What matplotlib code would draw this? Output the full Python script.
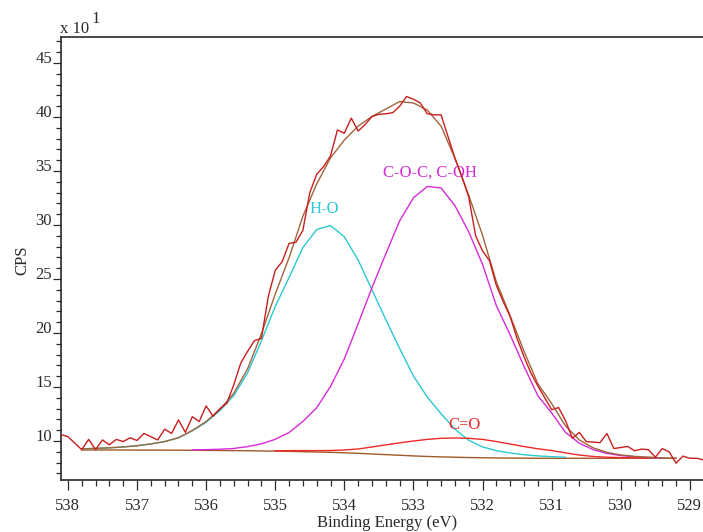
import numpy as np
import matplotlib as mpl
mpl.use('Agg')
mpl.rcParams.update({'font.size': 12, 'font.family': ['Liberation Serif', 'DejaVu Serif']})
from matplotlib import pyplot as plt
from matplotlib.ticker import MultipleLocator

# O 1s region, counts in units of 10 CPS, binding energy descending
RAW_START = 538.1
RAW_STEP = 0.1
raw_counts = [
    10.6, 10.4, 9.8, 9.2, 10.15, 9.2, 10.1, 9.65, 10.15, 9.95,
    10.3, 10.05, 10.7, 10.4, 10.1, 11.1, 10.7, 11.95, 10.8, 12.25,
    11.8, 13.25, 12.3, 13.0, 13.5, 15.2, 17.2, 18.3, 19.3, 19.5,
    23.4, 25.8, 26.6, 28.3, 28.4, 29.5, 33.0, 34.7, 35.4, 36.4,
    38.8, 38.5, 39.9, 38.7, 39.3, 40.05, 40.25, 40.3, 40.4, 41.0,
    41.9, 41.65, 41.3, 40.3, 40.2, 40.2, 38.2, 36.2, 34.5, 32.6,
    29.0, 27.6, 26.7, 24.4, 22.9, 21.5, 19.5, 17.8, 16.3, 15.1,
    14.0, 12.9, 13.1, 11.9, 10.25, 10.8, 9.95, 9.9, 9.85, 10.7,
    9.3, 9.4, 9.5, 9.1, 9.25, 9.2, 8.5, 9.3, 9.0, 7.95,
    8.6, 8.4, 8.4, 8.25,
]

# fitted region: Shirley background and peak heights above it
FIT_START = 537.8
FIT_STEP = 0.2
background = [
    9.17, 9.17, 9.17, 9.17, 9.16, 9.16, 9.15, 9.15, 9.14, 9.13,
    9.12, 9.11, 9.10, 9.08, 9.06, 9.04, 9.01, 8.98, 8.95, 8.91,
    8.86, 8.80, 8.74, 8.68, 8.62, 8.57, 8.53, 8.50, 8.47, 8.45,
    8.43, 8.42, 8.41, 8.40, 8.40, 8.40, 8.40, 8.40, 8.40, 8.40,
    8.40, 8.40, 8.40, 8.40,
]
peak_ho = [
    0.1, 0.15, 0.2, 0.28, 0.4, 0.57, 0.8, 1.15, 1.8, 2.6,
    3.7, 5.1, 7.2, 10.2, 13.4, 16.1, 18.9, 20.6, 21.0, 20.0,
    17.9, 15.2, 12.5, 9.9, 7.4, 5.5, 4.0, 2.6, 1.6, 1.0,
    0.68, 0.47, 0.32, 0.22, 0.15, 0.1, 0, 0, 0, 0,
    0, 0, 0, 0,
]
peak_coc = [
    0, 0, 0, 0, 0, 0, 0, 0, 0.04, 0.07,
    0.12, 0.2, 0.38, 0.65, 1.1, 1.75, 2.8, 4.1, 6.1, 8.7,
    12.0, 15.4, 18.6, 21.7, 23.9, 25.0, 24.9, 23.3, 20.9, 17.9,
    14.1, 11.4, 8.5, 5.8, 4.2, 2.4, 1.4, 0.8, 0.45, 0.25,
    0.14, 0.08, 0.04, 0,
]
peak_co = [
    0, 0, 0, 0, 0, 0, 0, 0, 0, 0,
    0, 0, 0, 0, 0.04, 0.07, 0.1, 0.13, 0.17, 0.26,
    0.4, 0.65, 0.9, 1.15, 1.38, 1.58, 1.72, 1.78, 1.78, 1.7,
    1.52, 1.3, 1.08, 0.88, 0.72, 0.5, 0.3, 0.17, 0.1, 0.06,
    0.04, 0.02, 0, 0,
]
peak_names = ['H-O', 'C-O-C, C-OH', 'C=O']

W, H = 703, 532


def plot_o1s():
    fig = plt.figure(figsize=(W / 100, H / 100), dpi=100)
    ax = fig.add_axes([61 / W, 1 - 480 / H, 642 / W, 443 / H])

    raw_e = RAW_START - RAW_STEP * np.arange(len(raw_counts))
    fit_e = FIT_START - FIT_STEP * np.arange(len(background))
    bg = np.array(background)

    ax.plot(fit_e, bg, color='#a05a28', lw=1.0, zorder=2)

    peaks = [peak_ho, peak_coc, peak_co]
    colors = ['#2ac8d2', '#d82ad8', '#f02828']
    label_pos = [(534.50, 31.1), (533.44, 34.45), (532.50, 11.1)]
    for h, c, name, pos in zip(peaks, colors, peak_names, label_pos):
        h = np.array(h)
        ax.plot(fit_e, np.where(h > 0, bg + h, np.nan), color=c, lw=1.0, zorder=3)
        ax.text(pos[0], pos[1], name, color=c, ha='left', va='baseline')

    envelope = bg + np.array(peak_ho) + np.array(peak_coc) + np.array(peak_co)
    ax.plot(fit_e, envelope, color='#a0643c', lw=1.0, zorder=4)
    ax.plot(raw_e, raw_counts, color='#c81e1e', lw=1.0, zorder=5)

    ax.set_xlim(538.10, 528.81)
    ax.set_ylim(6.39, 47.41)
    ax.xaxis.set_major_locator(MultipleLocator(1))
    ax.xaxis.set_minor_locator(MultipleLocator(0.2))
    ax.yaxis.set_major_locator(MultipleLocator(5))
    ax.yaxis.set_minor_locator(MultipleLocator(1))

    ink = '#2a2a2a'
    ax.tick_params(axis='x', which='major', direction='out', length=7.2, width=0.9, pad=5.5, colors=ink)
    ax.tick_params(axis='x', which='minor', direction='out', length=4.3, width=0.9, colors=ink)
    ax.tick_params(axis='y', which='major', direction='out', length=5.8, width=0.9, pad=0.7, colors=ink)
    ax.tick_params(axis='y', which='minor', direction='out', length=3.6, width=0.9, colors=ink)
    ax.set_yticks(range(10, 50, 5))
    ax.set_yticklabels([str(v) for v in range(10, 50, 5)], va='baseline')

    for side in ['left', 'top', 'bottom']:
        ax.spines[side].set_color(ink)
        ax.spines[side].set_linewidth(1.2)
    ax.spines['right'].set_visible(False)

    ax.set_xlabel('Binding Energy (eV)', color=ink)
    ax.xaxis.set_label_coords(0.508, -0.078)
    ax.set_ylabel('CPS', color=ink)
    ax.yaxis.set_label_coords(-0.048, 0.497)

    fig.text(60 / W, 1 - 33 / H, 'x 10', color=ink, va='baseline')
    fig.text(91 / W, 1 - 23 / H, '1', color=ink, va='baseline')
    return fig


def main():
    fig = plot_o1s()
    fig.savefig('out.png', dpi=100)


if __name__ == '__main__':
    main()
